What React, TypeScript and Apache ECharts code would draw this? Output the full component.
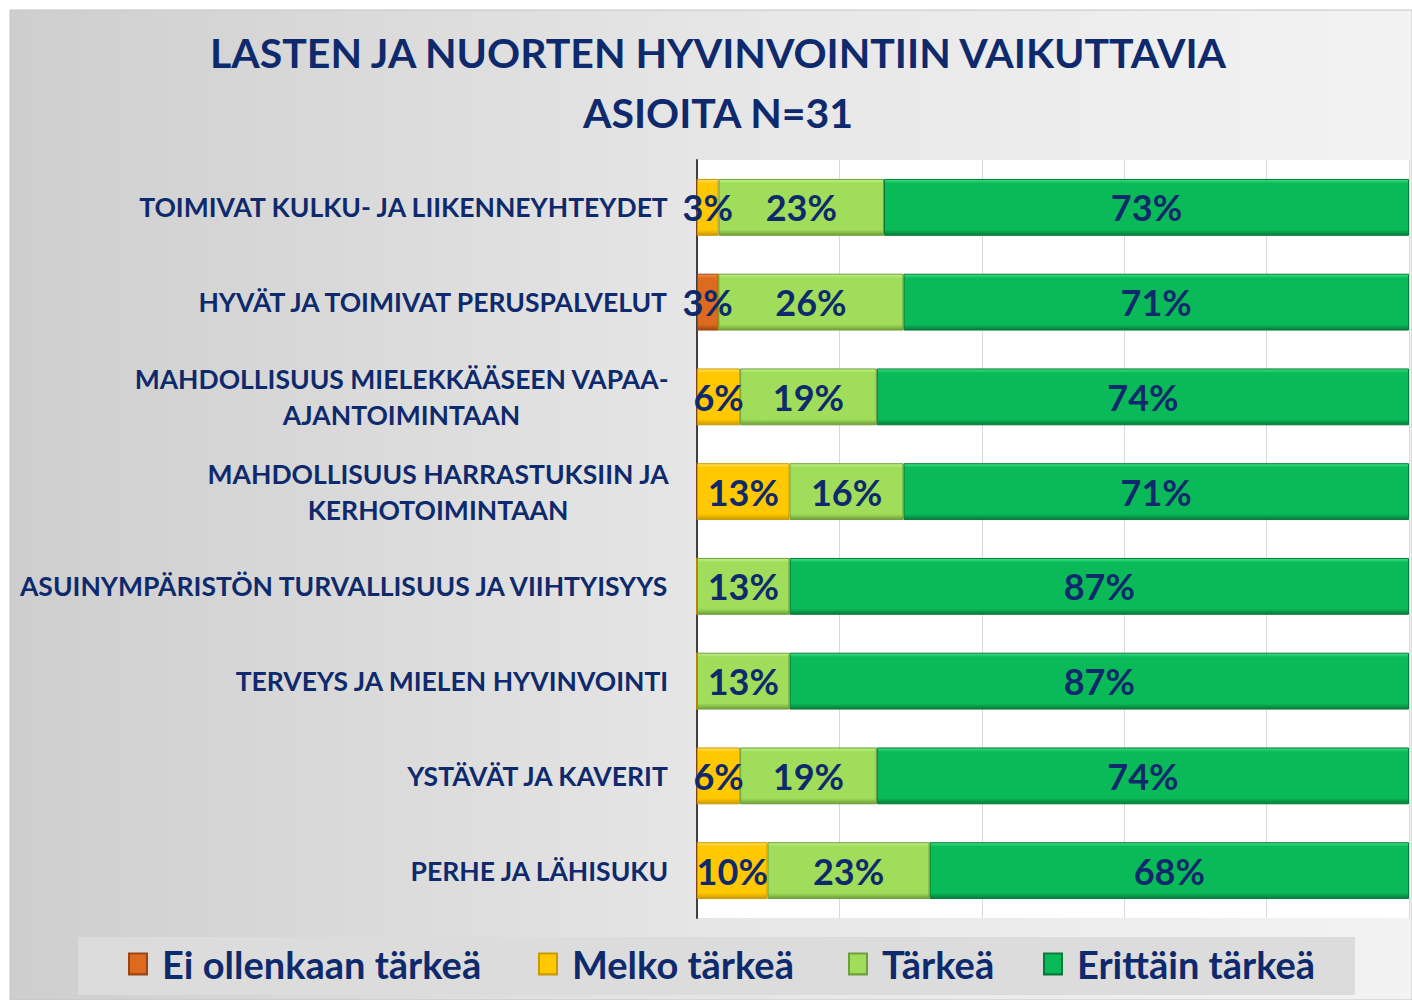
import React, { useEffect, useRef } from "react";
import * as echarts from "echarts";

const categories = [
  "TOIMIVAT KULKU- JA LIIKENNEYHTEYDET",
  "HYVÄT JA TOIMIVAT PERUSPALVELUT",
  "MAHDOLLISUUS MIELEKKÄÄSEEN VAPAA-\nAJANTOIMINTAAN",
  "MAHDOLLISUUS HARRASTUKSIIN JA\nKERHOTOIMINTAAN",
  "ASUINYMPÄRISTÖN TURVALLISUUS JA VIIHTYISYYS",
  "TERVEYS JA MIELEN HYVINVOINTI",
  "YSTÄVÄT JA KAVERIT",
  "PERHE JA LÄHISUKU",
];

const seriesNames = ["Ei ollenkaan tärkeä", "Melko tärkeä", "Tärkeä", "Erittäin tärkeä"];
const eiOllenkaan = [0, 3, 0, 0, 0, 0, 0, 0];
const melko = [3, 0, 6, 13, 0, 0, 6, 10];
const tarkea = [23, 26, 19, 16, 13, 13, 19, 23];
const erittain = [73, 71, 74, 71, 87, 87, 74, 68];

const xTicks = [0, 20, 40, 60, 80, 100];

const NAVY = "#0e2a6c";
const FONT = "Lato";

const colors = [
  { base: "#dd6a1f", light: "#f0934f", dark: "#9c4512" },
  { base: "#ffc800", light: "#ffe066", dark: "#c99a00" },
  { base: "#9fdd5a", light: "#c3f08c", dark: "#6f9f3a" },
  { base: "#0aba58", light: "#3fe084", dark: "#067a39" },
];

function bevel(c: { base: string; light: string; dark: string }) {
  return new echarts.graphic.LinearGradient(0, 0, 0, 1, [
    { offset: 0, color: c.light },
    { offset: 0.07, color: c.base },
    { offset: 0.9, color: c.base },
    { offset: 1, color: c.dark },
  ]);
}

export default function App() {
  const ref = useRef<HTMLDivElement>(null);
  useEffect(() => {
    if (!ref.current) return;
    const chart = echarts.init(ref.current, undefined, { renderer: "svg" });
    const dataSets = [eiOllenkaan, melko, tarkea, erittain];
    // 100% stacked: normalise each row so the bar fills the axis; labels keep the read values
    const rowSums = categories.map((_, r) => dataSets.reduce((s, d) => s + d[r], 0));
    const legendLefts = [123, 533, 843, 1038];
    const option: any = {
      animation: false,
      backgroundColor: "transparent",
      textStyle: { fontFamily: FONT },
      graphic: [
        {
          type: "rect",
          z: -100,
          shape: { x: 10, y: 10, width: 1402, height: 990 },
          style: {
            fill: new echarts.graphic.LinearGradient(0, 0, 1, 0, [
              { offset: 0, color: "#cecece" },
              { offset: 0.5, color: "#e6e6e6" },
              { offset: 1, color: "#f3f3f3" },
            ]),
            stroke: "#c4c4c4",
            lineWidth: 1,
          },
        },
        {
          type: "rect",
          z: -50,
          shape: { x: 78, y: 937, width: 1277, height: 58 },
          style: { fill: "#dcdcdc" },
        },
      ],
      title: {
        text: "LASTEN JA NUORTEN HYVINVOINTIIN VAIKUTTAVIA\nASIOITA N=31",
        left: 713,
        top: 17,
        textAlign: "center",
        textStyle: {
          fontFamily: FONT,
          fontWeight: "bold",
          fontSize: 41,
          lineHeight: 60,
          color: NAVY,
        },
      },
      legend: seriesNames.map((n, i) => ({
        data: [n],
        left: legendLefts[i],
        top: 940,
        icon: "rect",
        itemWidth: 18,
        itemHeight: 21,
        itemGap: 10,
        textStyle: {
          fontFamily: FONT,
          fontSize: 38,
          color: NAVY,
          fontWeight: "bold",
          padding: [0, 0, 0, 10],
        },
      })),
      grid: {
        left: 697,
        right: 3,
        top: 160,
        bottom: 82,
        show: true,
        backgroundColor: "#ffffff",
        borderWidth: 0,
      },
      xAxis: {
        type: "value",
        min: 0,
        max: 100,
        interval: 20,
        axisLabel: { show: false },
        axisLine: { show: false },
        axisTick: { show: false },
        splitLine: { show: true, lineStyle: { color: "#d9d9d9", width: 1 } },
        data: xTicks,
      },
      yAxis: {
        type: "category",
        inverse: true,
        data: categories,
        axisTick: { show: false },
        axisLine: { show: true, lineStyle: { color: "#404040", width: 2 } },
        axisLabel: {
          margin: 28,
          align: "right",
          fontFamily: FONT,
          fontWeight: "bold",
          fontSize: 26.5,
          color: NAVY,
          formatter: (v: string) =>
            v
              .split("\n")
              .map((l) => "{c|" + l + "}")
              .join("\n"),
          rich: {
            c: {
              align: "center",
              fontFamily: FONT,
              fontWeight: "bold",
              fontSize: 26.5,
              lineHeight: 36,
              color: NAVY,
            },
          },
        },
      },
      series: dataSets.map((d, i) => ({
        name: seriesNames[i],
        type: "bar",
        stack: "total",
        barWidth: "60%",
        data: d.map((v, r) => ({ value: (v / rowSums[r]) * 100, raw: v })),
        itemStyle: {
          color: bevel(colors[i]),
          borderColor: colors[i].dark,
          borderWidth: 1,
        },
        label: {
          show: true,
          position: "inside",
          fontFamily: FONT,
          fontWeight: "bold",
          fontSize: 36,
          color: NAVY,
          formatter: (p: any) => (p.data.raw ? p.data.raw + "%" : ""),
        },
      })),
    };
    chart.setOption(option);
    return () => chart.dispose();
  }, []);
  return (
    <div
      ref={ref}
      style={{ position: "absolute", left: 0, top: 0, width: 1412, height: 1000 }}
    />
  );
}
